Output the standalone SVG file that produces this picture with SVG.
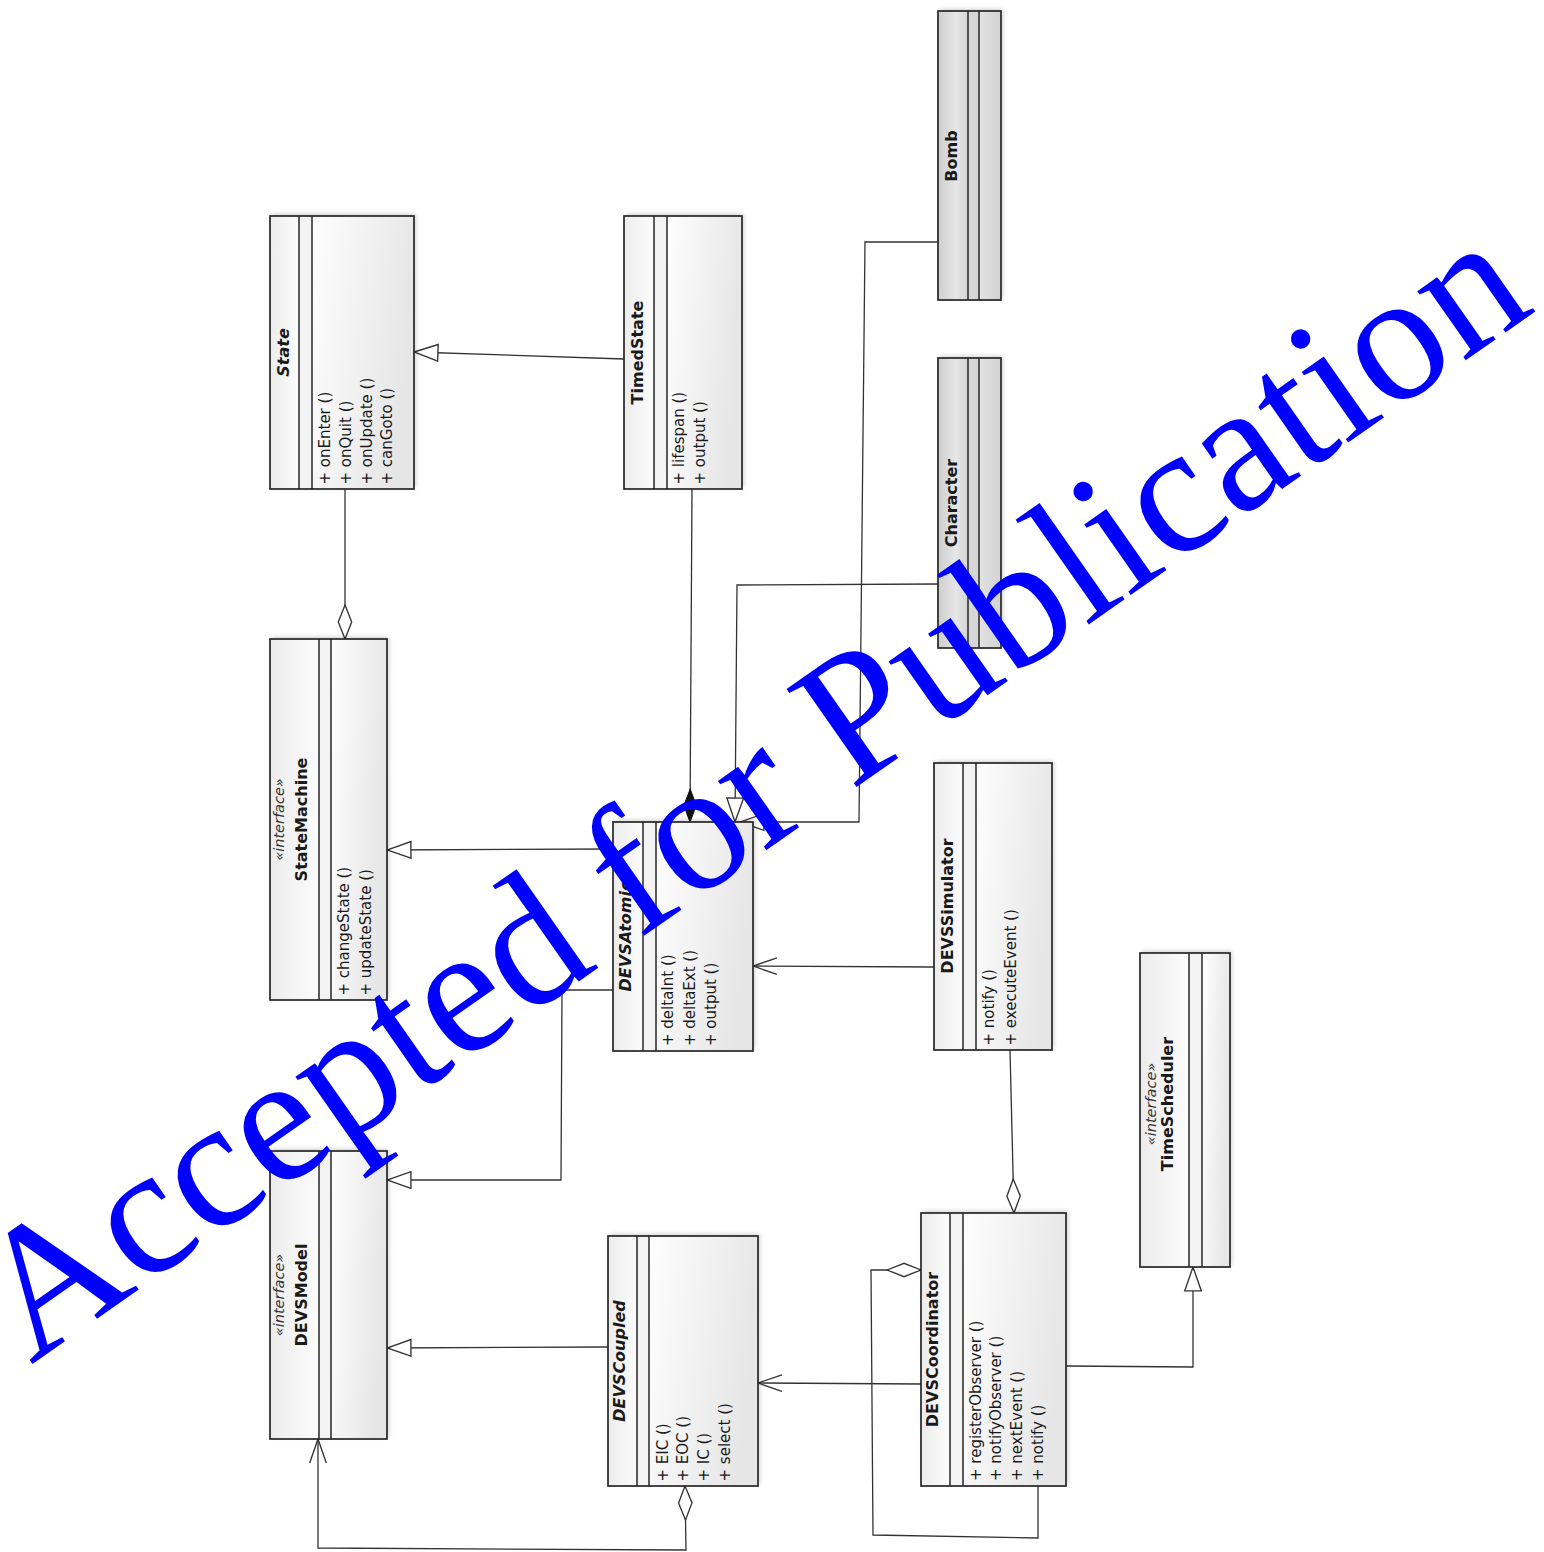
<svg xmlns="http://www.w3.org/2000/svg" width="1544" height="1552" viewBox="0 0 1544 1552">
<style>
  .frame { fill: none; stroke: #262626; stroke-width: 1.7; }
  .bg { fill: #ffffff; filter: url(#sh); }
  .nm { fill: url(#gName); }
  .at { fill: #f3f3f3; }
  .op { fill: url(#gOps); }
  .nmD { fill: url(#gDarkName); }
  .atD { fill: #d6d6d6; }
  .opD { fill: url(#gDarkOps); }
  .div { stroke: #262626; stroke-width: 1.5; }
  text { font-family: "DejaVu Sans", "Liberation Sans", sans-serif; fill: #1a1a1a; }
  .name { font-size: 16px; font-weight: bold; text-anchor: middle; }
  .abs { font-style: italic; }
  .stereo { font-size: 14.5px; font-style: italic; text-anchor: middle; fill: #333; }
  .opt { font-size: 15px; }
  .edge { fill: none; stroke: #333; stroke-width: 1.3; }
  .wm { font-family: "Liberation Serif", "Times New Roman", serif; font-size: 184px; fill: #0000ff; }
</style>
<defs>
  <linearGradient id="gName" x1="0" y1="0" x2="1" y2="0">
    <stop offset="0" stop-color="#ececec"/>
    <stop offset="1" stop-color="#fcfcfc"/>
  </linearGradient>
  <linearGradient id="gOps" x1="0" y1="0" x2="1" y2="0.3">
    <stop offset="0" stop-color="#fefefe"/>
    <stop offset="1" stop-color="#e6e6e6"/>
  </linearGradient>
  <linearGradient id="gDarkName" x1="0" y1="0" x2="1" y2="0">
    <stop offset="0" stop-color="#cdcdcd"/>
    <stop offset="0.6" stop-color="#e6e6e6"/>
    <stop offset="1" stop-color="#d4d4d4"/>
  </linearGradient>
  <linearGradient id="gDarkOps" x1="0" y1="0" x2="1" y2="0">
    <stop offset="0" stop-color="#e2e2e2"/>
    <stop offset="1" stop-color="#d2d2d2"/>
  </linearGradient>
  <filter id="sh" x="-10%" y="-10%" width="120%" height="120%">
    <feDropShadow dx="2" dy="-2" stdDeviation="2" flood-color="#000" flood-opacity="0.18"/>
  </filter>
  <marker id="tri" markerUnits="userSpaceOnUse" markerWidth="26" markerHeight="20" viewBox="-1 -1 25 18" refX="23" refY="8" orient="auto-start-reverse">
    <path d="M0,0 L23,8 L0,16 Z" fill="#fff" stroke="#333" stroke-width="1.3"/>
  </marker>
  <marker id="open" markerUnits="userSpaceOnUse" markerWidth="26" markerHeight="20" viewBox="-1 -1 25 18" refX="23" refY="8" orient="auto-start-reverse">
    <path d="M0,0 L23,8 L0,16" fill="none" stroke="#333" stroke-width="1.3"/>
  </marker>
  <marker id="dia" markerUnits="userSpaceOnUse" markerWidth="36" markerHeight="16" viewBox="-1 -1 35 15" refX="33" refY="6.5" orient="auto-start-reverse">
    <path d="M0,6.5 L16.5,0 L33,6.5 L16.5,13 Z" fill="#fff" stroke="#333" stroke-width="1.3"/>
  </marker>
  <marker id="diaF" markerUnits="userSpaceOnUse" markerWidth="36" markerHeight="16" viewBox="-1 -1 35 15" refX="32" refY="6" orient="auto-start-reverse">
    <path d="M0,6 L16,0 L32,6 L16,12 Z" fill="#111" stroke="#111" stroke-width="1"/>
  </marker>
</defs>
<rect width="1544" height="1552" fill="#ffffff"/>

<g id="connectors">
  <path class="edge" d="M624,359 L414,352" marker-end="url(#tri)"/>
  <path class="edge" d="M345,489 L345,639" marker-end="url(#dia)"/>
  <path class="edge" d="M692,489 L690,822" marker-end="url(#diaF)"/>
  <path class="edge" d="M938,584 L737,585 L735,822" marker-end="url(#tri)"/>
  <path class="edge" d="M938,242 L865,242 L859,822 L740,822" marker-end="url(#tri)"/>
  <path class="edge" d="M613,849 L387,850" marker-end="url(#tri)"/>
  <path class="edge" d="M613,990 L562,990 L561,1180 L387,1180" marker-end="url(#tri)"/>
  <path class="edge" d="M934,967 L753,966" marker-end="url(#open)"/>
  <path class="edge" d="M1010,1050 L1014,1213" marker-end="url(#dia)"/>
  <path class="edge" d="M1038,1486 L1038,1538 L873,1535 L871,1270 L921,1270" marker-end="url(#dia)"/>
  <path class="edge" d="M1066,1366 L1193,1367 L1193,1267" marker-end="url(#tri)"/>
  <path class="edge" d="M921,1384 L758,1383" marker-end="url(#open)"/>
  <path class="edge" d="M608,1347 L387,1348" marker-end="url(#tri)"/>
  <path class="edge" d="M685,1486 L686,1550 L318,1548 L318,1439" marker-start="url(#dia)" marker-end="url(#open)"/>
</g>

<g id="node-State">
  <rect class="bg" x="270" y="216" width="144" height="273"/>
  <rect class="nm" x="270" y="216" width="29" height="273"/>
  <rect class="at" x="299" y="216" width="13" height="273"/>
  <rect class="op" x="312" y="216" width="102" height="273"/>
  <line class="div" x1="299" y1="216" x2="299" y2="489"/>
  <line class="div" x1="312" y1="216" x2="312" y2="489"/>
  <rect class="frame" x="270" y="216" width="144" height="273"/>
  <text class="name abs" transform="translate(288.5,352.5) rotate(-90)">State</text>
  <text class="opt" transform="translate(330,484.5) rotate(-90)">+ onEnter ()</text>
  <text class="opt" transform="translate(350.7,484.5) rotate(-90)">+ onQuit ()</text>
  <text class="opt" transform="translate(371.5,484.5) rotate(-90)">+ onUpdate ()</text>
  <text class="opt" transform="translate(392.3,484.5) rotate(-90)">+ canGoto ()</text>
</g>

<g id="node-TimedState">
  <rect class="bg" x="624" y="216" width="118" height="273"/>
  <rect class="nm" x="624" y="216" width="30" height="273"/>
  <rect class="at" x="654" y="216" width="13" height="273"/>
  <rect class="op" x="667" y="216" width="75" height="273"/>
  <line class="div" x1="654" y1="216" x2="654" y2="489"/>
  <line class="div" x1="667" y1="216" x2="667" y2="489"/>
  <rect class="frame" x="624" y="216" width="118" height="273"/>
  <text class="name" transform="translate(643,352.5) rotate(-90)">TimedState</text>
  <text class="opt" transform="translate(684.3,484.5) rotate(-90)">+ lifespan ()</text>
  <text class="opt" transform="translate(705,484.5) rotate(-90)">+ output ()</text>
</g>

<g id="node-Bomb">
  <rect class="bg" x="938" y="11" width="63" height="289"/>
  <rect class="nmD" x="938" y="11" width="30" height="289"/>
  <rect class="atD" x="968" y="11" width="11" height="289"/>
  <rect class="opD" x="979" y="11" width="22" height="289"/>
  <line class="div" x1="968" y1="11" x2="968" y2="300"/>
  <line class="div" x1="979" y1="11" x2="979" y2="300"/>
  <rect class="frame" x="938" y="11" width="63" height="289"/>
  <text class="name" transform="translate(957,156) rotate(-90)">Bomb</text>
</g>

<g id="node-Character">
  <rect class="bg" x="938" y="358" width="63" height="290"/>
  <rect class="nmD" x="938" y="358" width="30" height="290"/>
  <rect class="atD" x="968" y="358" width="11" height="290"/>
  <rect class="opD" x="979" y="358" width="22" height="290"/>
  <line class="div" x1="968" y1="358" x2="968" y2="648"/>
  <line class="div" x1="979" y1="358" x2="979" y2="648"/>
  <rect class="frame" x="938" y="358" width="63" height="290"/>
  <text class="name" transform="translate(957,503) rotate(-90)">Character</text>
</g>

<g id="node-StateMachine">
  <rect class="bg" x="270" y="639" width="117" height="361"/>
  <rect class="nm" x="270" y="639" width="49" height="361"/>
  <rect class="at" x="319" y="639" width="12" height="361"/>
  <rect class="op" x="331" y="639" width="56" height="361"/>
  <line class="div" x1="319" y1="639" x2="319" y2="1000"/>
  <line class="div" x1="331" y1="639" x2="331" y2="1000"/>
  <rect class="frame" x="270" y="639" width="117" height="361"/>
  <text class="stereo" transform="translate(284,819.5) rotate(-90)">«interface»</text>
  <text class="name" transform="translate(306.7,819.5) rotate(-90)">StateMachine</text>
  <text class="opt" transform="translate(349.3,995.5) rotate(-90)">+ changeState ()</text>
  <text class="opt" transform="translate(371,995.5) rotate(-90)">+ updateState ()</text>
</g>

<g id="node-DEVSAtomic">
  <rect class="bg" x="613" y="822" width="140" height="229"/>
  <rect class="nm" x="613" y="822" width="30" height="229"/>
  <rect class="at" x="643" y="822" width="13" height="229"/>
  <rect class="op" x="656" y="822" width="97" height="229"/>
  <line class="div" x1="643" y1="822" x2="643" y2="1051"/>
  <line class="div" x1="656" y1="822" x2="656" y2="1051"/>
  <rect class="frame" x="613" y="822" width="140" height="229"/>
  <text class="name abs" transform="translate(631,936.5) rotate(-90)">DEVSAtomic</text>
  <text class="opt" transform="translate(673.3,1046) rotate(-90)">+ deltaInt ()</text>
  <text class="opt" transform="translate(695,1046) rotate(-90)">+ deltaExt ()</text>
  <text class="opt" transform="translate(715.7,1046) rotate(-90)">+ output ()</text>
</g>

<g id="node-DEVSSimulator">
  <rect class="bg" x="934" y="763" width="118" height="287"/>
  <rect class="nm" x="934" y="763" width="29" height="287"/>
  <rect class="at" x="963" y="763" width="13" height="287"/>
  <rect class="op" x="976" y="763" width="76" height="287"/>
  <line class="div" x1="963" y1="763" x2="963" y2="1050"/>
  <line class="div" x1="976" y1="763" x2="976" y2="1050"/>
  <rect class="frame" x="934" y="763" width="118" height="287"/>
  <text class="name" transform="translate(953,906) rotate(-90)">DEVSSimulator</text>
  <text class="opt" transform="translate(994,1045.5) rotate(-90)">+ notify ()</text>
  <text class="opt" transform="translate(1016,1045.5) rotate(-90)">+ executeEvent ()</text>
</g>

<g id="node-TimeScheduler">
  <rect class="bg" x="1140" y="953" width="90" height="314"/>
  <rect class="nm" x="1140" y="953" width="49" height="314"/>
  <rect class="at" x="1189" y="953" width="13" height="314"/>
  <rect class="op" x="1202" y="953" width="28" height="314"/>
  <line class="div" x1="1189" y1="953" x2="1189" y2="1267"/>
  <line class="div" x1="1202" y1="953" x2="1202" y2="1267"/>
  <rect class="frame" x="1140" y="953" width="90" height="314"/>
  <text class="stereo" transform="translate(1156,1104) rotate(-90)">«interface»</text>
  <text class="name" transform="translate(1173,1104) rotate(-90)">TimeScheduler</text>
</g>

<g id="node-DEVSModel">
  <rect class="bg" x="270" y="1151" width="117" height="288"/>
  <rect class="nm" x="270" y="1151" width="49" height="288"/>
  <rect class="at" x="319" y="1151" width="12" height="288"/>
  <rect class="op" x="331" y="1151" width="56" height="288"/>
  <line class="div" x1="319" y1="1151" x2="319" y2="1439"/>
  <line class="div" x1="331" y1="1151" x2="331" y2="1439"/>
  <rect class="frame" x="270" y="1151" width="117" height="288"/>
  <text class="stereo" transform="translate(284,1295) rotate(-90)">«interface»</text>
  <text class="name" transform="translate(306.7,1295) rotate(-90)">DEVSModel</text>
</g>

<g id="node-DEVSCoupled">
  <rect class="bg" x="608" y="1236" width="150" height="250"/>
  <rect class="nm" x="608" y="1236" width="29" height="250"/>
  <rect class="at" x="637" y="1236" width="12" height="250"/>
  <rect class="op" x="649" y="1236" width="109" height="250"/>
  <line class="div" x1="637" y1="1236" x2="637" y2="1486"/>
  <line class="div" x1="649" y1="1236" x2="649" y2="1486"/>
  <rect class="frame" x="608" y="1236" width="150" height="250"/>
  <text class="name abs" transform="translate(624.5,1361) rotate(-90)">DEVSCoupled</text>
  <text class="opt" transform="translate(667.7,1481.5) rotate(-90)">+ EIC ()</text>
  <text class="opt" transform="translate(688.3,1481.5) rotate(-90)">+ EOC ()</text>
  <text class="opt" transform="translate(709.3,1481.5) rotate(-90)">+ IC ()</text>
  <text class="opt" transform="translate(730.3,1481.5) rotate(-90)">+ select ()</text>
</g>

<g id="node-DEVSCoordinator">
  <rect class="bg" x="921" y="1213" width="145" height="273"/>
  <rect class="nm" x="921" y="1213" width="29" height="273"/>
  <rect class="at" x="950" y="1213" width="13" height="273"/>
  <rect class="op" x="963" y="1213" width="103" height="273"/>
  <line class="div" x1="950" y1="1213" x2="950" y2="1486"/>
  <line class="div" x1="963" y1="1213" x2="963" y2="1486"/>
  <rect class="frame" x="921" y="1213" width="145" height="273"/>
  <text class="name" transform="translate(937.5,1349.5) rotate(-90)">DEVSCoordinator</text>
  <text class="opt" transform="translate(981,1481) rotate(-90)">+ registerObserver ()</text>
  <text class="opt" transform="translate(1001,1481) rotate(-90)">+ notifyObserver ()</text>
  <text class="opt" transform="translate(1022.3,1481) rotate(-90)">+ nextEvent ()</text>
  <text class="opt" transform="translate(1043.3,1481) rotate(-90)">+ notify ()</text>
</g>

<g id="watermark">
  <text class="wm" transform="translate(31,1365) rotate(-35)">Accepted for Publication</text>
</g>
</svg>
